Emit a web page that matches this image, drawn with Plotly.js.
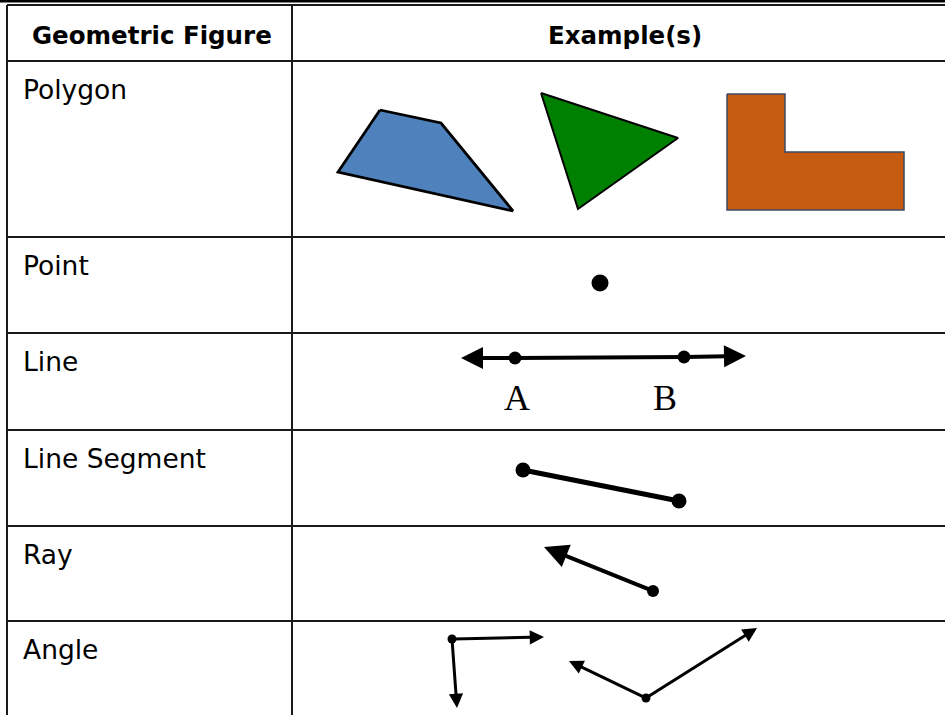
<!DOCTYPE html>
<html><head><meta charset="utf-8">
<script src="https://cdn.plot.ly/plotly-3.0.1.min.js"></script>
<style>html,body{margin:0;padding:0;background:#fff;overflow:hidden;} #chart{width:945px;height:715px;}</style>
</head><body><div id="chart"></div>
<script>
// ---- table text ----
const headerLabels = ["Geometric Figure", "Example(s)"];
const headerCenterX = [152, 625];
const rowLabels = ["Polygon", "Point", "Line", "Line Segment", "Ray", "Angle"];
// ---- table grid (pixel space of the figure) ----
const rowEdges = [5, 61, 237, 333, 430, 526, 621, 715];
const colEdges = [7, 292, 945];

// ---- polygon examples ----
const quadX = [380, 441, 513, 338];
const quadY = [110, 123, 211, 172];
const triX = [541, 678, 578];
const triY = [93, 138, 209];
const lShapeX = [727, 785, 785, 904, 904, 727];
const lShapeY = [94, 94, 152, 152, 210, 210];

// ---- point ----
const pointX = [600];
const pointY = [283];

// ---- line (tips and named points) ----
const lineTipX = [461, 746];
const lineTipY = [358, 356];
const linePtX = [515, 684];
const linePtY = [358, 357];
const linePtLabels = ["A", "B"];
const linePtLabelX = [517, 665];
const linePtLabelY = [398, 398];

// ---- line segment ----
const segX = [523, 679];
const segY = [470, 501];

// ---- ray: [origin, tip] ----
const rayX = [653, 544];
const rayY = [591, 547];

// ---- angles: [vertex, tip1, tip2] ----
const ang1X = [452, 544, 457];
const ang1Y = [639, 637, 708];
const ang2X = [646, 569, 757];
const ang2Y = [698, 661, 628];

const W = 945, H = 715;
const close = a => a.concat([a[0]]);

const traces = [
  {x: close(quadX), y: close(quadY), mode: 'lines', fill: 'toself', fillcolor: '#4f81bd',
   line: {color: '#000', width: 2.8}, hoverinfo: 'skip'},
  {x: close(triX), y: close(triY), mode: 'lines', fill: 'toself', fillcolor: '#008000',
   line: {color: '#000', width: 2}, hoverinfo: 'skip'},
  {x: close(lShapeX), y: close(lShapeY), mode: 'lines', fill: 'toself', fillcolor: '#c55a11',
   line: {color: '#3b4a66', width: 1.5}, hoverinfo: 'skip'},
  {x: pointX, y: pointY, mode: 'markers', marker: {color: '#000', size: 17}, hoverinfo: 'skip'},
  {x: linePtX, y: linePtY, mode: 'lines+markers', line: {color: '#000', width: 4},
   marker: {color: '#000', size: 13}, hoverinfo: 'skip'},
  {x: segX, y: segY, mode: 'lines+markers', line: {color: '#000', width: 5},
   marker: {color: '#000', size: 15}, hoverinfo: 'skip'},
  {x: [rayX[0]], y: [rayY[0]], mode: 'markers', marker: {color: '#000', size: 12}, hoverinfo: 'skip'},
  {x: [ang1X[0], ang2X[0]], y: [ang1Y[0], ang2Y[0]], mode: 'markers',
   marker: {color: '#000', size: 9}, hoverinfo: 'skip'}
];

const annotations = [];
function arrow(tipX, tipY, tailX, tailY, w, s) {
  annotations.push({x: tipX, y: tipY, ax: tailX, ay: tailY, xref: 'x', yref: 'y',
    axref: 'x', ayref: 'y', text: '', showarrow: true, arrowhead: 2, arrowsize: s,
    arrowwidth: w, arrowcolor: '#000', standoff: 0, startstandoff: 0});
}
// line arrows
arrow(lineTipX[0], lineTipY[0], linePtX[0], linePtY[0], 4, 1.1);
arrow(lineTipX[1], lineTipY[1], linePtX[1], linePtY[1], 4, 1.1);
// ray
arrow(rayX[1], rayY[1], rayX[0], rayY[0], 4, 1.2);
// angles
arrow(ang1X[1], ang1Y[1], ang1X[0], ang1Y[0], 3, 0.95);
arrow(ang1X[2], ang1Y[2], ang1X[0], ang1Y[0], 3, 0.95);
arrow(ang2X[1], ang2Y[1], ang2X[0], ang2Y[0], 3, 0.95);
arrow(ang2X[2], ang2Y[2], ang2X[0], ang2Y[0], 3, 0.95);

// point labels A, B
linePtLabels.forEach((t, i) => annotations.push({x: linePtLabelX[i], y: linePtLabelY[i],
  xref: 'x', yref: 'y', text: t, showarrow: false, xanchor: 'center', yanchor: 'middle',
  font: {family: 'Liberation Serif, Times New Roman, serif', size: 36, color: '#000'}}));

// header labels
headerLabels.forEach((t, i) => annotations.push({
  x: headerCenterX[i], y: 35,
  xref: 'x', yref: 'y', text: '<b>' + t + '</b>', showarrow: false,
  xanchor: 'center', yanchor: 'middle',
  font: {family: 'DejaVu Sans, sans-serif', size: 24.5, color: '#000'}}));
// row labels
rowLabels.forEach((t, i) => annotations.push({
  x: colEdges[0] + 14, y: rowEdges[i + 1] + 28, xref: 'x', yref: 'y', text: t,
  showarrow: false, xanchor: 'left', yanchor: 'middle',
  font: {family: 'DejaVu Sans, sans-serif', size: 26.5, color: '#000'}}));

// grid shapes
const shapes = [];
const gridLine = {color: '#1a1a1a', width: 2};
shapes.push({type: 'line', xref: 'x', yref: 'y', x0: 0, x1: W, y0: 1, y1: 1, line: {color: '#000', width: 3}});
for (let i = 0; i < rowEdges.length - 1; i++) {
  shapes.push({type: 'line', xref: 'x', yref: 'y', x0: colEdges[0], x1: colEdges[2],
    y0: rowEdges[i], y1: rowEdges[i], line: gridLine});
}
for (let j = 0; j < colEdges.length - 1; j++) {
  shapes.push({type: 'line', xref: 'x', yref: 'y', x0: colEdges[j], x1: colEdges[j],
    y0: rowEdges[0], y1: rowEdges[rowEdges.length - 1], line: gridLine});
}

const layout = {
  width: W, height: H, margin: {l: 0, r: 0, t: 0, b: 0, pad: 0},
  paper_bgcolor: '#fff', plot_bgcolor: '#fff', showlegend: false,
  xaxis: {range: [0, W], visible: false, fixedrange: true},
  yaxis: {range: [H, 0], visible: false, fixedrange: true},
  shapes: shapes, annotations: annotations
};
Plotly.newPlot('chart', traces, layout, {displayModeBar: false, staticPlot: true});
</script></body></html>
